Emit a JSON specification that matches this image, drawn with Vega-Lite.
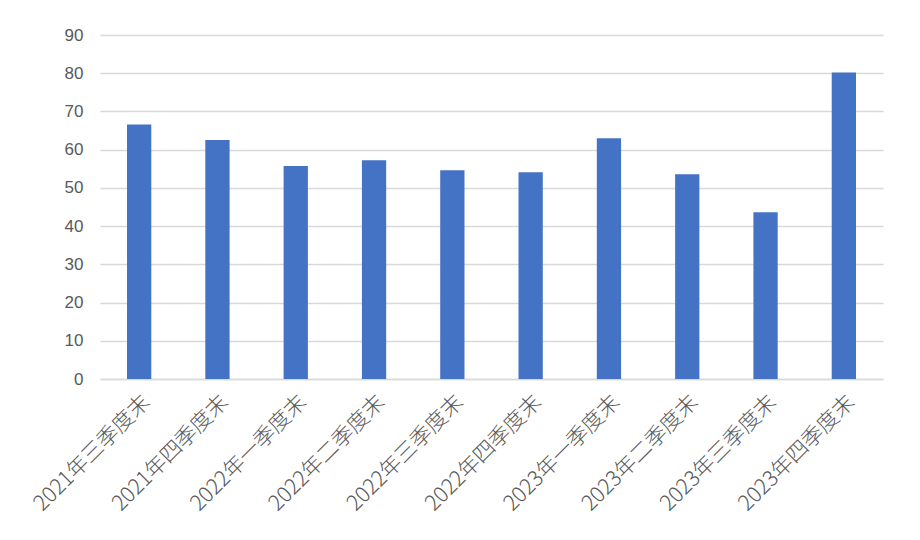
{
  "$schema": "https://vega.github.io/schema/vega-lite/v6.json",
  "width": 783,
  "height": 344,
  "autosize": {"type": "none"},
  "padding": {"left": 100, "top": 35, "right": 37, "bottom": 161},
  "background": "white",
  "config": {
    "view": {"stroke": null},
    "font": "Noto Sans CJK JP"
  },
  "data": {
    "values": [
      {"q": "2021年三季度末", "v": 66.6},
      {"q": "2021年四季度末", "v": 62.5},
      {"q": "2022年一季度末", "v": 55.7},
      {"q": "2022年二季度末", "v": 57.2},
      {"q": "2022年三季度末", "v": 54.6},
      {"q": "2022年四季度末", "v": 54.1},
      {"q": "2023年一季度末", "v": 63.0},
      {"q": "2023年二季度末", "v": 53.6},
      {"q": "2023年三季度末", "v": 43.6},
      {"q": "2023年四季度末", "v": 80.2}
    ]
  },
  "mark": {"type": "bar", "color": "#4472C4"},
  "encoding": {
    "x": {
      "field": "q",
      "type": "nominal",
      "sort": null,
      "title": null,
      "scale": {"paddingInner": 0.69, "paddingOuter": 0.345},
      "axis": {
        "labelAngle": -45,
        "labelFontSize": 21.5,
        "labelFontWeight": 300,
        "labelColor": "#595959",
        "labelFont": "Noto Sans CJK JP",
        "ticks": false,
        "domainColor": "#d9d9d9",
        "domainWidth": 1.3,
        "labelPadding": 12
      }
    },
    "y": {
      "field": "v",
      "type": "quantitative",
      "title": null,
      "scale": {"domain": [0, 90]},
      "axis": {
        "values": [0, 10, 20, 30, 40, 50, 60, 70, 80, 90],
        "labelFontSize": 17,
        "labelColor": "#595959",
        "labelFont": "Liberation Sans",
        "ticks": false,
        "domain": false,
        "gridColor": "#d9d9d9",
        "gridWidth": 1.3,
        "labelPadding": 17
      }
    }
  }
}
